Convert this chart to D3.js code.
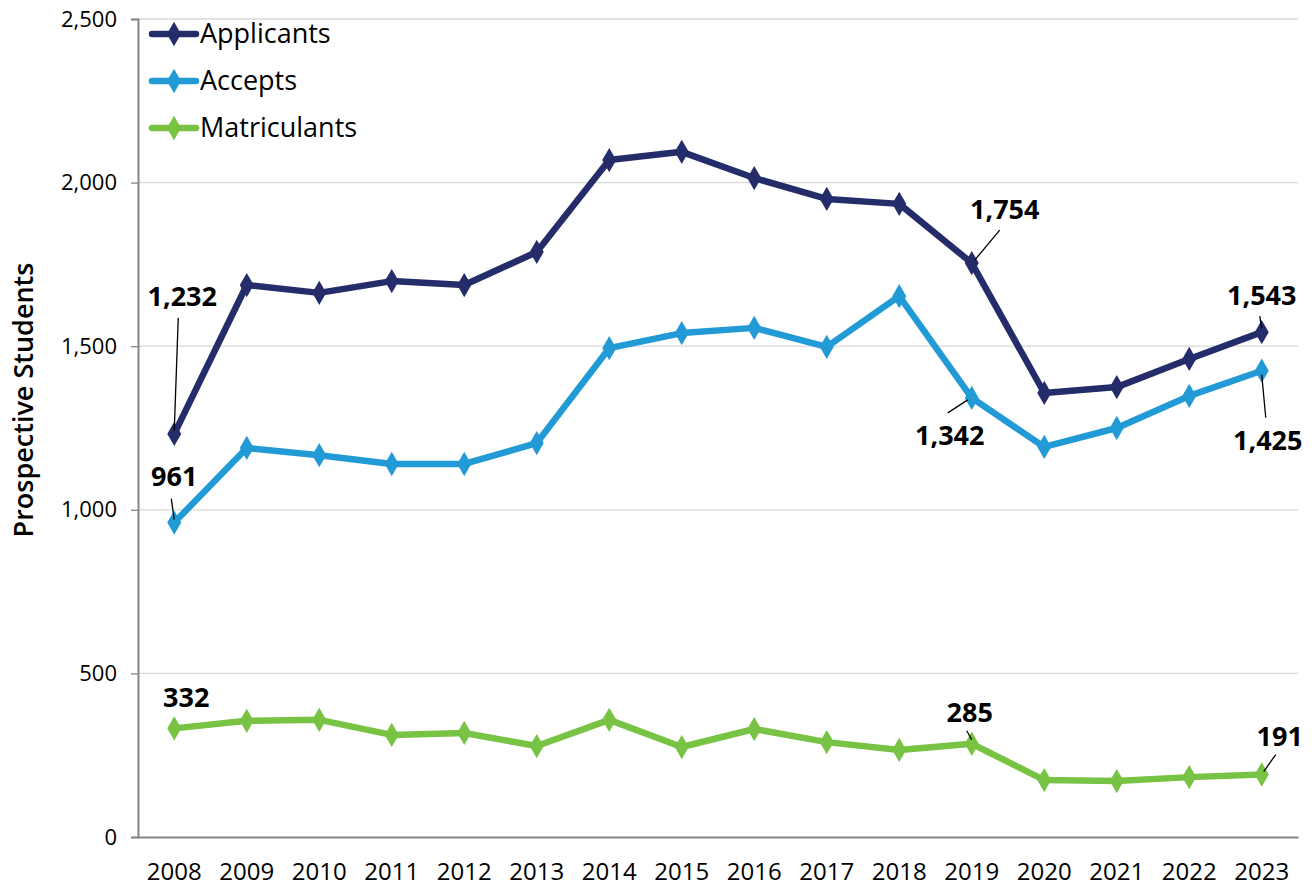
<!DOCTYPE html>
<html><head><meta charset="utf-8">
<script src="https://cdn.jsdelivr.net/npm/d3@7"></script>
<style>body{margin:0;background:#fff}svg{display:block}text{font-family:"Open Sans",sans-serif}</style>
</head><body>
<svg id="c" width="1316" height="888"></svg>
<script>
const years = ["2008","2009","2010","2011","2012","2013","2014","2015","2016","2017","2018","2019","2020","2021","2022","2023"];
const applicants = [1232,1687,1663,1699,1687,1788,2069,2094,2014,1950,1935,1754,1357,1375,1461,1543];
const accepts = [961,1189,1167,1140,1140,1204,1494,1540,1556,1498,1653,1342,1192,1250,1348,1425];
const matriculants = [332,355,358,312,318,278,358,275,330,290,266,285,174,171,183,191];
const seriesNames = ["Applicants","Accepts","Matriculants"];
const yTicks = [0,500,1000,1500,2000,2500];
// annotations: series index, year index, label offset, leader line offsets
const annotations = [
  {s:0,i:0,dx:8,dy:-128,lx1:0,ly1:-3,lx2:4,ly2:-116},
  {s:1,i:0,dx:0,dy:-37,lx1:0,ly1:-3,lx2:-3,ly2:-24},
  {s:0,i:11,dx:33,dy:-44,lx1:3,ly1:-3,lx2:28,ly2:-33},
  {s:1,i:11,dx:-22,dy:47,lx1:-4,ly1:2,lx2:-24,ly2:15},
  {s:0,i:15,dx:0,dy:-27,lx1:0,ly1:-4,lx2:-2,ly2:-16},
  {s:1,i:15,dx:6,dy:79,lx1:0,ly1:4,lx2:4,ly2:47},
  {s:2,i:0,dx:12,dy:-21,lx1:0,ly1:0,lx2:0,ly2:0},
  {s:2,i:11,dx:-2,dy:-22,lx1:0,ly1:-4,lx2:-5,ly2:-13},
  {s:2,i:15,dx:18,dy:-29,lx1:2,ly1:-3,lx2:14,ly2:-20}
];
const colors = ["#252c6a","#229ad6","#78c244"];
const data = [applicants, accepts, matriculants];

const svg = d3.select("#c");
const m = {l:138, r:1298, t:19, b:837};
const x = d3.scaleBand().domain(years).range([m.l, m.r]);
const y = d3.scaleLinear().domain([0,2500]).range([m.b, m.t]);
const cx = d => x(d) + x.bandwidth()/2;

svg.append("g").selectAll("line").data(yTicks.filter(d=>d>0)).join("line")
  .attr("x1", m.l).attr("x2", m.r).attr("y1", d=>y(d)).attr("y2", d=>y(d))
  .attr("stroke","#d9d9d9").attr("stroke-width",1.3);

const yAxis = svg.append("g").attr("transform",`translate(${m.l},0)`)
  .call(d3.axisLeft(y).tickValues(yTicks).tickFormat(d3.format(",")).tickSize(7).tickPadding(14));
yAxis.attr("font-size",22).attr("font-family","Open Sans");
yAxis.select(".domain").attr("stroke","#868686").attr("stroke-width",2);
yAxis.selectAll(".tick line").attr("stroke","#868686").attr("stroke-width",1.3);
yAxis.selectAll("text").attr("fill","#000");

const xAxis = svg.append("g").attr("transform",`translate(0,${m.b})`)
  .call(d3.axisBottom(x).tickSize(0).tickPadding(26));
xAxis.attr("font-size",24).attr("font-family","Open Sans");
xAxis.select(".domain").attr("stroke","#868686").attr("stroke-width",2);
xAxis.selectAll("text").attr("fill","#000");

svg.append("text").attr("transform",`translate(33,400) rotate(-90)`)
  .attr("text-anchor","middle").attr("font-size",27).attr("font-weight",600).text("Prospective Students");

const line = d3.line().x((d,i)=>cx(years[i])).y(d=>y(d));
const diamond = d3.symbol().type(d3.symbolDiamond).size(170);

data.forEach((arr,k)=>{
  svg.append("path").datum(arr).attr("d",line).attr("fill","none")
    .attr("stroke",colors[k]).attr("stroke-width",6.5).attr("stroke-linejoin","round");
  svg.append("g").selectAll("path").data(arr).join("path")
    .attr("d",diamond).attr("transform",(d,i)=>`translate(${cx(years[i])},${y(d)})`)
    .attr("fill",colors[k]);
});

const fmt = d3.format(",");
annotations.forEach(a=>{
  const px = cx(years[a.i]), py = y(data[a.s][a.i]);
  if (a.lx1!==a.lx2 || a.ly1!==a.ly2)
    svg.append("line").attr("x1",px+a.lx1).attr("y1",py+a.ly1).attr("x2",px+a.lx2).attr("y2",py+a.ly2)
      .attr("stroke","#000").attr("stroke-width",1.3);
  svg.append("text").attr("x",px+a.dx).attr("y",py+a.dy).attr("text-anchor","middle")
    .attr("font-size",27).attr("font-weight",700).text(fmt(data[a.s][a.i]));
});

const lg = svg.append("g");
seriesNames.forEach((n,k)=>{
  const ly = 34 + k*47;
  lg.append("line").attr("x1",152).attr("x2",196).attr("y1",ly).attr("y2",ly)
    .attr("stroke",colors[k]).attr("stroke-width",6.5).attr("stroke-linecap","round");
  lg.append("path").attr("d",diamond).attr("transform",`translate(174,${ly})`).attr("fill",colors[k]);
  lg.append("text").attr("x",200).attr("y",ly+9).attr("font-size",27).text(n);
});
</script>
</body></html>
